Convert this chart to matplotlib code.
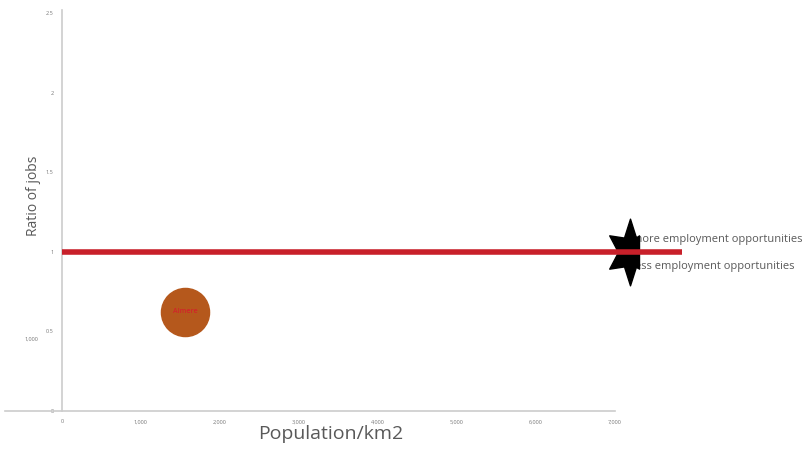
import numpy as np
import matplotlib
matplotlib.use('Agg')
import matplotlib.pyplot as plt
from matplotlib.path import Path

plt.rcParams['font.family'] = ['Open Sans', 'DejaVu Sans']

# data
cities = ['Almere']
density = [1557]
job_ratio = [0.625]
bubble_size = [1200]
bubble_colors = ['#b5581c']

ref_x = [0, 7850]
ref_y = [1, 1]
star_x = [7190]
star_y = [1]
note_labels = ['more employment opportunities', 'less employment opportunities']
note_y = [1.08, 0.905]

xticks = [0, 1000, 2000, 3000, 4000, 5000, 6000, 7000]
yticks = [0, 0.5, 1, 1.5, 2, 2.5]
ytick_labels = ['0', '0.5', '1', '1.5', '2', '2.5']

grey = '#595959'
axis_grey = '#cccccc'

fig = plt.figure(figsize=(8.03, 4.49), dpi=100)
ax = fig.add_axes([5 / 803, 38 / 449, 610 / 803, 398 / 449])
ax.set_xlim(-720, 7000)
ax.set_ylim(0, 2.5)

for s in ['top', 'right']:
    ax.spines[s].set_visible(False)
ax.spines['left'].set_position(('data', 0))
ax.spines['left'].set_bounds(0, 2.52)
ax.spines['left'].set_color(axis_grey)
ax.spines['bottom'].set_color(axis_grey)
ax.spines['left'].set_linewidth(1.2)
ax.spines['bottom'].set_linewidth(1.2)

ax.set_xticks(xticks)
ax.set_xticklabels(['{:,}'.format(v) for v in xticks])
ax.set_yticks(yticks)
ax.set_yticklabels(ytick_labels)
ax.tick_params(axis='x', length=0, labelsize=4, labelcolor='#777777', pad=6)
ax.tick_params(axis='y', length=0, labelsize=4, labelcolor='#777777', pad=6)

# stray label on left
ax.text(-380, 0.45, '1,000', fontsize=4, color='#777777', ha='center', va='center')

# reference line
ax.plot(ref_x, ref_y, color='#c8202a', lw=4, clip_on=False, zorder=5, solid_capstyle='butt')

# star marker (6 points, stretched vertically, right tips cut off)
ang = np.deg2rad(np.arange(12) * 30 + 90)
rad = np.where(np.arange(12) % 2 == 0, 1.0, 0.5)
verts = np.column_stack([0.72 * rad * np.cos(ang), rad * np.sin(ang)])
verts[:, 0] = np.minimum(verts[:, 0], 0.27)
verts = np.vstack([verts, verts[0]])
star = Path(verts, [Path.MOVETO] + [Path.LINETO] * 11 + [Path.CLOSEPOLY])
ax.plot(star_x, star_y, marker=star, markersize=48, color='black', ls='none',
        clip_on=False, zorder=4)

for lab, yy in zip(note_labels, note_y):
    ax.text(star_x[0] + 25, yy, lab, fontsize=8, color=grey, ha='left', va='center',
            clip_on=False, zorder=3)

# bubbles
ax.scatter(density, job_ratio, s=bubble_size, c=bubble_colors, zorder=2)
for name, xx, yy in zip(cities, density, job_ratio):
    ax.text(xx, yy, name, fontsize=5, fontweight='semibold', color='#d2232a',
            ha='center', va='center', zorder=3)

ax.set_xlabel('Population/km2', fontsize=14, color=grey)
ax.xaxis.set_label_coords((331 - 5) / 610, -0.035)
ax.set_ylabel('Ratio of jobs', fontsize=10, color=grey)
ax.yaxis.set_label_coords((41 - 5) / 610, 0.54)

fig.savefig('out.png', dpi=100)
